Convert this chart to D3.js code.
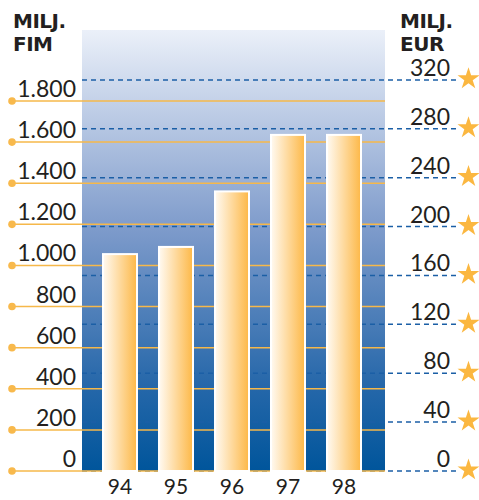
<!DOCTYPE html>
<html>
<head>
<meta charset="utf-8">
<script src="https://cdn.jsdelivr.net/npm/d3@7"></script>
<style>
  body { margin: 0; background: #fff; }
  text { font-family: "Lato", "Noto Sans", sans-serif; }
  text.unit { font-family: "DejaVu Sans", sans-serif; font-weight: bold; }
</style>
</head>
<body>
<script>
// values in millions FIM
const years = ["94", "95", "96", "97", "98"];
const values = [1060, 1095, 1365, 1640, 1640];
const fimTicks = [0, 200, 400, 600, 800, 1000, 1200, 1400, 1600, 1800];
const fimLabels = ["0", "200", "400", "600", "800", "1.000", "1.200", "1.400", "1.600", "1.800"];
const eurTicks = [0, 40, 80, 120, 160, 200, 240, 280, 320];
const eurRate = 5.94573;

const width = 479, height = 500;
const panelLeft = 82, panelRight = 385, panelTop = 30;

const svg = d3.select("body").append("svg")
  .attr("width", width)
  .attr("height", height);

const y = d3.scaleLinear().domain([0, 1800]).range([471, 101]);
const x = d3.scaleBand().domain(years).range([92, 372])
  .paddingInner(0.357).paddingOuter(0.1785);

const defs = svg.append("defs");
const bg = defs.append("linearGradient").attr("id", "bg")
  .attr("x1", 0).attr("y1", 0).attr("x2", 0).attr("y2", 1);
bg.append("stop").attr("offset", 0).attr("stop-color", "#ebf0f9");
bg.append("stop").attr("offset", 0.45).attr("stop-color", "#7e9bcb");
bg.append("stop").attr("offset", 0.8).attr("stop-color", "#2768aa");
bg.append("stop").attr("offset", 1).attr("stop-color", "#00559b");

const barGrad = defs.append("linearGradient").attr("id", "bar")
  .attr("x1", 0).attr("y1", 0).attr("x2", 1).attr("y2", 0);
barGrad.append("stop").attr("offset", 0).attr("stop-color", "#fffaf2");
barGrad.append("stop").attr("offset", 1).attr("stop-color", "#fdb847");

svg.append("rect")
  .attr("x", panelLeft).attr("y", panelTop)
  .attr("width", panelRight - panelLeft).attr("height", y(0) - panelTop)
  .attr("fill", "url(#bg)");

// EUR dashed gridlines
svg.append("g")
  .selectAll("line")
  .data(eurTicks)
  .join("line")
  .attr("x1", panelLeft).attr("x2", 458)
  .attr("y1", d => y(d * eurRate)).attr("y2", d => y(d * eurRate))
  .attr("stroke", "#1b5fa6")
  .attr("stroke-width", 1.5)
  .attr("stroke-dasharray", "5,4");

// FIM orange gridlines
svg.append("g")
  .selectAll("line")
  .data(fimTicks)
  .join("line")
  .attr("x1", 12).attr("x2", panelRight)
  .attr("y1", d => y(d)).attr("y2", d => y(d))
  .attr("stroke", "#f6b84a")
  .attr("stroke-width", 1.5);

svg.append("g")
  .selectAll("circle")
  .data(fimTicks)
  .join("circle")
  .attr("cx", 12).attr("cy", d => y(d)).attr("r", 3.8)
  .attr("fill", "#f8b94c");

// bars
svg.append("g")
  .selectAll("rect")
  .data(values)
  .join("rect")
  .attr("x", (d, i) => x(years[i]) + 1)
  .attr("y", d => y(d) + 1)
  .attr("width", x.bandwidth() - 2)
  .attr("height", d => y(0) - y(d) - 1)
  .attr("fill", "url(#bar)")
  .attr("stroke", "#ffffff")
  .attr("stroke-width", 2);

// left labels
svg.append("g")
  .selectAll("text")
  .data(fimTicks)
  .join("text")
  .attr("x", 76).attr("y", d => y(d) - 4)
  .attr("text-anchor", "end")
  .attr("font-size", 23)
  .attr("fill", "#231f20")
  .text((d, i) => fimLabels[i]);

// right labels
svg.append("g")
  .selectAll("text")
  .data(eurTicks)
  .join("text")
  .attr("x", 450).attr("y", d => y(d * eurRate) - 4)
  .attr("text-anchor", "end")
  .attr("font-size", 23)
  .attr("fill", "#231f20")
  .text(d => d);

// stars
svg.append("g")
  .selectAll("path")
  .data(eurTicks)
  .join("path")
  .attr("d", d3.symbol(d3.symbolStar, 150))
  .attr("transform", d => `translate(468.5,${y(d * eurRate) - 1})`)
  .attr("fill", "#fbb740");

// year labels
svg.append("g")
  .selectAll("text")
  .data(years)
  .join("text")
  .attr("x", d => x(d) + x.bandwidth() / 2)
  .attr("y", 494)
  .attr("text-anchor", "middle")
  .attr("font-size", 21)
  .attr("fill", "#231f20")
  .text(d => d);

// unit titles
const titles = [
  { x: 13, lines: ["MILJ.", "FIM"] },
  { x: 400, lines: ["MILJ.", "EUR"] }
];
titles.forEach(t => {
  svg.append("text")
    .attr("class", "unit")
    .attr("x", t.x).attr("y", 28)
    .attr("font-size", 20)
    .attr("letter-spacing", -0.5)
    .attr("fill", "#231f20")
    .text(t.lines[0]);
  svg.append("text")
    .attr("class", "unit")
    .attr("x", t.x).attr("y", 51)
    .attr("font-size", 20)
    .attr("letter-spacing", -0.5)
    .attr("fill", "#231f20")
    .text(t.lines[1]);
});
</script>
</body>
</html>
